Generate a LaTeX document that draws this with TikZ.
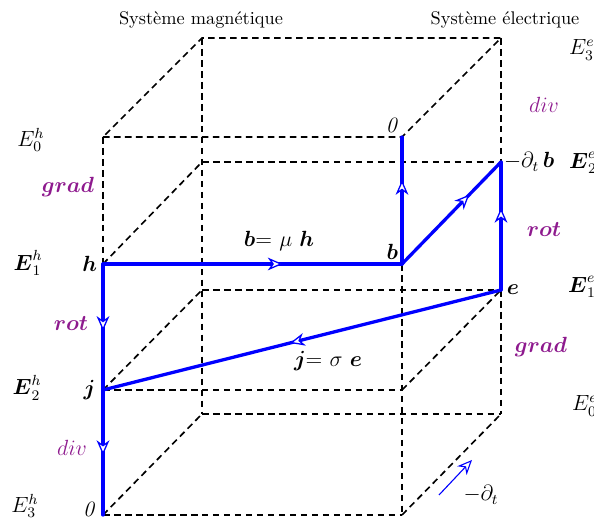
\documentclass[tikz,border=0pt]{standalone}
\usepackage{amsmath,amssymb}
\usepackage{tikz}
\usetikzlibrary{arrows.meta,positioning,decorations.markings}
\definecolor{FieldBlue}{HTML}{0000FF}
\definecolor{OpViolet}{HTML}{8E1A8E}
\tikzset{
  cube/.style={draw=black, line width=0.9pt, dash pattern=on 3.6pt off 2.4pt},
  flow/.style={draw=FieldBlue, line width=1.8pt, line cap=round,
    postaction={decorate},
    decoration={markings, mark=at position #1 with
      {\arrow{Stealth[length=8pt, width=7pt, inset=2.5pt, fill=white, line width=0.7pt]}}}},
  flow/.default=0.55,
  smallflow/.style={draw=FieldBlue, line width=0.6pt,
    -{Stealth[length=8pt, width=7pt, inset=2.5pt, fill=white]}},
  space/.style={inner sep=1pt, font=\large},
  vertex/.style={inner sep=1pt, font=\large},
  operator/.style={inner sep=1pt, font=\large, text=OpViolet},
  title/.style={inner sep=1pt}
}

\begin{document}
\begin{tikzpicture}[x=0.546pt, y=0.546pt]

\useasboundingbox (0,0) rectangle (594,520);

% corners of the two cubes (front / back, rows 0..3)
\coordinate (F0L) at (103,383);
\coordinate (F0R) at (402,383);
\coordinate (B0L) at (202,482);
\coordinate (B0R) at (501,482);
\coordinate (h)   at (103,256);
\coordinate (b)   at (402,256);
\coordinate (B1L) at (202,358);
\coordinate (B1R) at (501,358);
\coordinate (j)   at (103,130);
\coordinate (F2R) at (402,130);
\coordinate (B2L) at (202,230);
\coordinate (e)   at (501,230);
\coordinate (F3L) at (103,5);
\coordinate (F3R) at (402,5);
\coordinate (B3L) at (202,106);
\coordinate (B3R) at (501,106);

% dashed cube
\draw[cube] (F0L) -- (F0R) -- (B0R) -- (B0L) -- cycle;
\draw[cube] (F0L) -- (h);
\draw[cube] (B0L) -- (B3L);
\draw[cube] (B0R) -- (B1R);
\draw[cube] (e)   -- (B3R);
\draw[cube] (b)   -- (F3R);
\draw[cube] (B1L) -- (B1R);
\draw[cube] (B2L) -- (e);
\draw[cube] (B3L) -- (B3R);
\draw[cube] (j)   -- (F2R);
\draw[cube] (F3L) -- (F3R);
\draw[cube] (h)   -- (B1L);
\draw[cube] (j)   -- (B2L);
\draw[cube] (F3L) -- (B3L);
\draw[cube] (F2R) -- (e);
\draw[cube] (F3R) -- (B3R);

% system titles
\node[title] (magn) at (201,500) {Système magnétique};
\node[title] (elec) at (505,500) {Système électrique};

% magnetic side
\node[space] (Eh0) at (31,380) {$E_0^h$};
\node[space] (Eh1) at (28,257) {$\boldsymbol{E}_1^h$};
\node[space] (Eh2) at (27,132) {$\boldsymbol{E}_2^h$};
\node[space] (Eh3) at (25,14)  {$E_3^h$};
\node[operator] (gradh) at (68,333) {$\boldsymbol{grad}$};
\node[operator] (roth)  at (71,196) {$\boldsymbol{rot}$};
\node[operator] (divh)  at (72,72)  {$div$};

% electric side
\node[space, anchor=west] (Ee3) at (567,470) {$E_3^e$};
\node[space, anchor=west] (Ee2) at (567,357) {$\boldsymbol{E}_2^e$};
\node[space, anchor=west] (Ee1) at (566,233) {$\boldsymbol{E}_1^e$};
\node[space, anchor=west] (Ee0) at (570,114) {$E_0^e$};
\node[operator] (dive)  at (544,415) {$div$};
\node[operator] (rote)  at (544,290) {$\boldsymbol{rot}$};
\node[operator] (grade) at (541,173) {$\boldsymbol{grad}$};

% vertex labels
\node[vertex, left=2pt of h]     (hlab)  {$\boldsymbol{h}$};
\node[vertex, left=3pt of j]     (jlab)  {$\boldsymbol{j}$};
\node[vertex, left=2pt of F3L, yshift=3pt] (zeroh) {$\mathit{0}$};
\node[vertex, above left=1pt and 0pt of F0R] (zerob) {$\mathit{0}$};
\node[vertex, above left=1pt and 1pt of b]   (blab)  {$\boldsymbol{b}$};
\node[vertex, right=2pt of e]    (elab)  {$\boldsymbol{e}$};
\node[vertex, right=0.5pt of B1R] (dtb)  {$-\partial_t\,\boldsymbol{b}$};
\node[vertex] (muh) at (279,279) {$\boldsymbol{b}$= $\mu$ $\boldsymbol{h}$};
\node[vertex] (sige) at (328,159) {$\boldsymbol{j}$= $\sigma$ $\boldsymbol{e}$};

% blue flows
\draw[flow=0.6]  (h) -- (b);
\draw[flow=0.53] (h) -- (j);
\draw[flow=0.52] (j) -- (F3L);
\draw[flow=0.53] (e) -- (j);
\draw[flow=0.66] (b) -- (F0R);
\draw[flow=0.68] (b) -- (B1R);
\draw[flow=0.64] (e) -- (B1R);

% time derivative
\coordinate (dt0) at (439,25);
\coordinate (dt1) at (472,60);
\draw[smallflow] (dt0) -- (dt1);
\node[vertex] (dtlab) at (481,25) {$-\partial_t$};

\end{tikzpicture}
\end{document}
